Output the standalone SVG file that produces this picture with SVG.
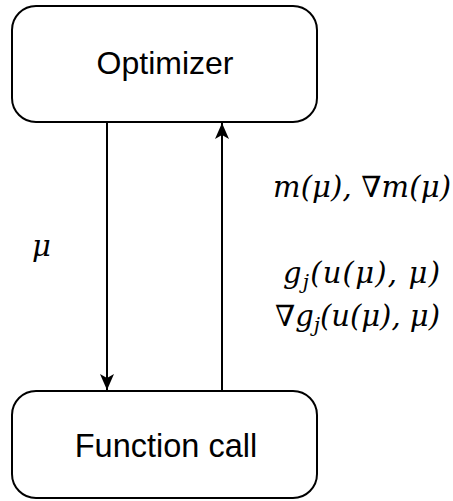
<svg xmlns="http://www.w3.org/2000/svg" width="453" height="501" viewBox="0 0 453 501">
<defs>
<style>
.box{fill:#fff;stroke:#000;stroke-width:2}
.lbl{font-family:"Liberation Sans",Arial,sans-serif;font-size:32px;fill:#000;text-anchor:middle}
.math{font-family:"DejaVu Serif","Liberation Serif",serif;font-style:italic;font-size:29px;fill:#000}
.edge{stroke:#000;stroke-width:2;fill:none}
</style>
<marker id="arr" viewBox="0 0 16 14" refX="16" refY="7" markerWidth="16" markerHeight="14" markerUnits="userSpaceOnUse" orient="auto">
<path d="M0,0 L16,7 L0,14 L4,7 z" fill="#000"/>
</marker>
</defs>
<g id="optimizer">
<rect class="box" x="12" y="6" width="305" height="116" rx="24" ry="24"/>
<text class="lbl" x="165" y="74">Optimizer</text>
</g>
<g id="function-call">
<rect class="box" x="12" y="391" width="305" height="107" rx="24" ry="24"/>
<text class="lbl" x="166" y="457" style="font-size:32.5px">Function call</text>
</g>
<g id="connectors">
<line class="edge" x1="107" y1="122" x2="107" y2="390" marker-end="url(#arr)"/>
<line class="edge" x1="222" y1="391" x2="222" y2="123" marker-end="url(#arr)"/>
<text class="math" x="32" y="256">μ</text>
<text class="math" x="273" y="197" textLength="178" lengthAdjust="spacing">m(μ), ∇m(μ)</text>
<text class="math" x="283" y="283" textLength="157" lengthAdjust="spacing">g<tspan font-size="20" dy="6">j</tspan><tspan dy="-6">(u(μ), μ)</tspan></text>
<text class="math" x="275" y="326" textLength="165" lengthAdjust="spacing">∇g<tspan font-size="20" dy="6">j</tspan><tspan dy="-6">(u(μ), μ)</tspan></text>
</g>
</svg>
